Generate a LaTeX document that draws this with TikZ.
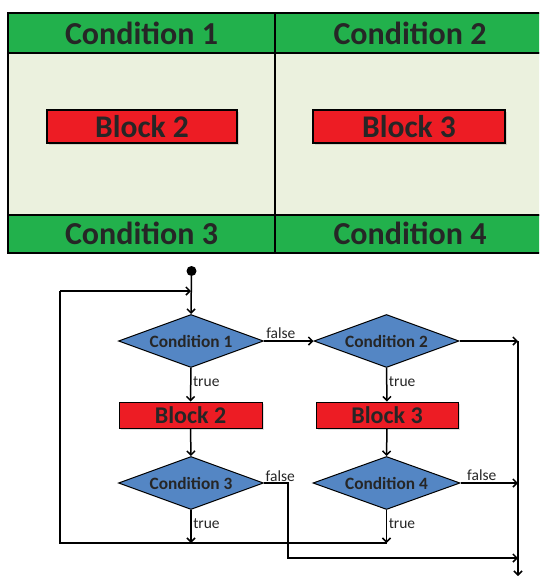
\documentclass[tikz,border=0pt]{standalone}
\usepackage{fontspec}
\setmainfont{Carlito}
\usetikzlibrary{shapes.geometric,arrows.meta,shadows}
\definecolor{hdrgreen}{RGB}{34,177,76}
\definecolor{bodygreen}{RGB}{235,241,222}
\definecolor{blockred}{RGB}{237,28,36}
\definecolor{condblue}{RGB}{84,134,196}
\definecolor{ink}{RGB}{38,38,38}
\begin{document}
\begin{tikzpicture}[x=1pt,y=-1pt,
  hdrcell/.style={draw=black, line width=2pt, fill=hdrgreen, inner sep=0,
    minimum height=40pt, font=\bfseries\fontsize{32}{34}\selectfont, text=ink},
  bodycell/.style={draw=black, line width=2pt, fill=bodygreen, inner sep=0},
  bigblock/.style={draw=black, line width=1.5pt, fill=blockred, inner sep=0,
    minimum height=33pt, font=\bfseries\fontsize{31.5}{33}\selectfont, text=ink,
    drop shadow={opacity=0.25, shadow xshift=1.5pt, shadow yshift=-1.5pt}},
  cond/.style={diamond, aspect=2.7, draw=black, line width=1pt, fill=condblue,
    minimum width=145pt, minimum height=53pt, inner sep=0,
    font=\bfseries\fontsize{17.3}{19}\selectfont, text=ink},
  flowblock/.style={draw=black, line width=1pt, fill=blockred, inner sep=0,
    minimum width=143pt, minimum height=26pt,
    font=\bfseries\fontsize{24}{26}\selectfont, text=ink,
    drop shadow={opacity=0.25, shadow xshift=1.5pt, shadow yshift=-1.5pt}},
  flow/.style={line width=1.5pt, draw=black},
  arr/.style={flow, -{Straight Barb[length=4pt,width=8pt]}},
  lbl/.style={font=\fontsize{15.5}{17}\selectfont, text=ink, inner sep=1.5pt}]
\useasboundingbox (0,0) rectangle (539,576);
\clip (0,0) rectangle (539,576);

% --- table of conditions ---
\node[bodycell, minimum width=267pt, minimum height=161.5pt] (body1) at (141.5,133.75) {};
\node[bodycell, minimum width=270pt, minimum height=161.5pt] (body2) at (410,133.75) {};
\node[bigblock, minimum width=190pt] (tb2) at (142,126.5) {Block 2};
\node[bigblock, minimum width=192pt] (tb3) at (409,126.5) {Block 3};
\node[hdrcell, minimum width=267pt] (h1) at (141.5,33) {Condition 1};
\node[hdrcell, minimum width=270pt] (h2) at (410,33) {Condition 2};
\node[hdrcell, minimum width=267pt, minimum height=38.5pt] (h3) at (141.5,233.75) {Condition 3};
\node[hdrcell, minimum width=270pt, minimum height=38.5pt] (h4) at (410,233.75) {Condition 4};

% --- flowchart ---
\node[circle, fill=black, minimum size=10pt, inner sep=0] (start) at (191.5,271) {};
\node[cond] (c1) at (191,341) {Condition 1};
\node[flowblock] (b2) at (190.5,415) {Block 2};
\node[cond] (c3) at (191,483) {Condition 3};
\node[cond] (c2) at (386.5,341) {Condition 2};
\node[flowblock, minimum width=142pt] (b3) at (387,415) {Block 3};
\node[cond, minimum width=147pt] (c4) at (386.5,483) {Condition 4};

\coordinate (loopTL) at (60,291);
\coordinate (loopBL) at (60,543);
\coordinate (j1) at (191,291);
\coordinate (j3) at (191,543);
\coordinate (j4) at (386.5,543);
\coordinate (r1) at (518,341);
\coordinate (r4) at (518,483);
\coordinate (r5) at (518,558);
\coordinate (rEnd) at (518,576);
\coordinate (k3) at (288,483);

\draw[arr] (start) -- (c1.north);
\draw[flow] (j4) -- (loopBL) -- (loopTL);
\draw[arr] (loopTL) -- (j1);
\draw[arr] (c1.south) -- node[lbl, right, pos=0.4] {true} (b2.north);
\draw[arr] (b2.south) -- (c3.north);
\draw[arr] (c3.south) -- node[lbl, right, pos=0.4] {true} (j3);
\draw[arr] (c1.east) -- (c2.west) node[lbl, above right, pos=0] {false};
\draw[arr] (c2.south) -- node[lbl, right, pos=0.4] {true} (b3.north);
\draw[arr] (b3.south) -- (c4.north);
\draw[arr] (c4.south) -- node[lbl, right, pos=0.4] {true} (j4);
\draw[arr] (c2.east) -- (r1);
\draw[arr] (c4.east) -- node[lbl, above, pos=0.37] {false} (r4);
\draw[arr] (c3.east) -- (k3) |- (r5);
\path (c3.east) node[lbl, above right] {false};
\draw[arr] (r1) -- (rEnd);
\end{tikzpicture}
\end{document}
